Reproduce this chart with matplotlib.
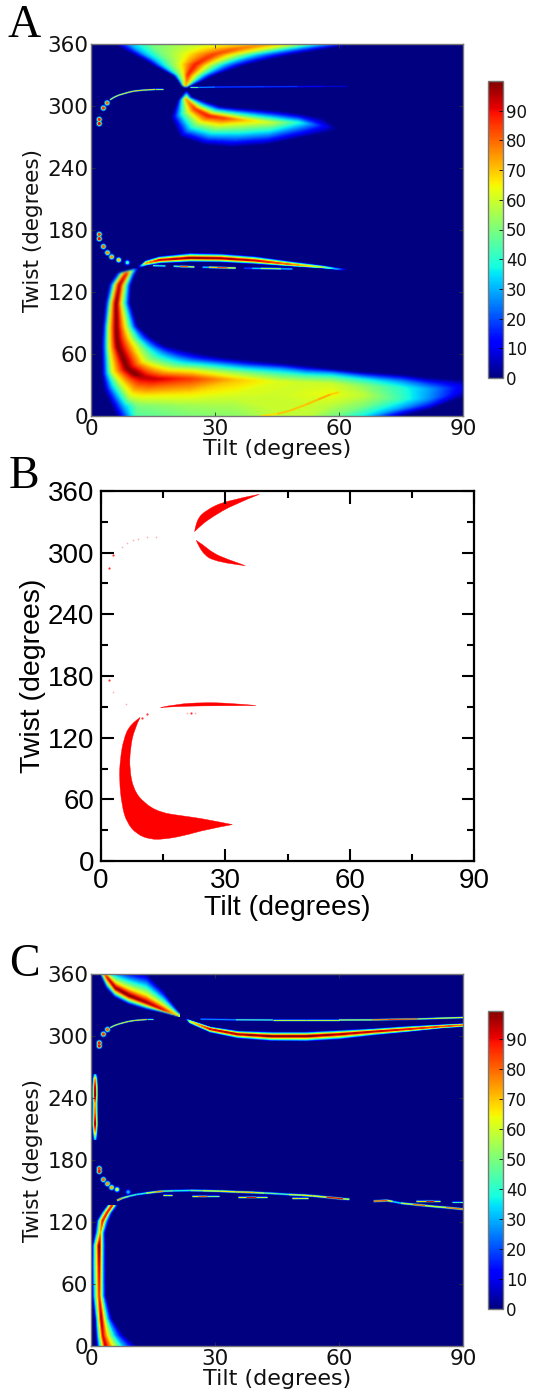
import numpy as np
import matplotlib
matplotlib.use("Agg")
import matplotlib.pyplot as plt
from matplotlib.collections import LineCollection
from matplotlib.cm import ScalarMappable
from matplotlib.colors import Normalize
from matplotlib.patches import PathPatch
from matplotlib.path import Path

W, H = 534, 1395
norm = Normalize(0, 100)
levels = np.linspace(0, 100, 101)

xticks = [0, 30, 60, 90]
yticks = [0, 60, 120, 180, 240, 300, 360]
cbar_ticks = [0, 10, 20, 30, 40, 50, 60, 70, 80, 90]

# panel A, big lower lobe: cross sections, outer edge -> inner edge
a_main_tilt = [
    [11.0, 11.1, 11.2, 11.3, 11.4, 11.5, 11.6],
    [6.3, 7.2, 7.7, 8.6, 9.2, 9.9, 10.7],
    [4.4, 5.3, 5.9, 6.9, 7.9, 8.8, 9.6],
    [3.5, 4.3, 4.9, 6.1, 7.3, 8.4, 9.4],
    [2.9, 3.7, 4.4, 6.1, 8.4, 9.9, 11.3],
    [2.7, 3.6, 4.4, 6.2, 9.5, 11.8, 14.5],
    [2.6, 3.6, 4.4, 6.5, 10.9, 14.1, 18.0],
    [2.7, 3.9, 5.1, 8.8, 13, 17, 20],
    [3.3, 5, 7, 11, 15, 19, 22.5],
    [6.3, 8, 9.5, 12.5, 17, 21, 25],
    [11, 11.5, 12.5, 15.5, 19, 23.5, 28],
    [24, 24, 24, 24, 24.5, 27.5, 32],
    [35, 35, 35, 35, 35.5, 37, 40],
    [45, 45, 45, 45, 45.5, 46, 47],
    [52, 52, 52, 52, 52, 52, 52],
    [58, 58, 58, 58, 58, 58, 58],
    [66, 66, 66, 66, 66, 66, 66],
    [75, 75, 75, 75, 75, 75, 75],
    [82, 82, 82, 82, 82, 82, 82],
    [90, 90, 90, 90, 90, 90, 90],
]
a_main_twist = [
    [143, 143, 143, 143, 143, 143, 143],
    [138, 138, 138, 138, 138, 138, 138],
    [127, 127, 127, 127, 127, 127, 127],
    [109, 109, 109, 109, 109, 109, 109],
    [86, 86, 86, 86, 86, 86, 86],
    [75, 75, 75, 75, 75, 75, 75],
    [67, 67, 67, 67, 67, 67, 67],
    [41, 41.7, 42.7, 46, 53, 60, 65.5],
    [25, 29, 33, 40, 50, 57, 63],
    [0, 10, 18, 38, 47, 54.5, 61],
    [0, 10, 20, 36, 45, 52.5, 58.5],
    [0, 11, 22, 36, 44, 51, 56],
    [0, 11, 22, 35, 42, 48, 52.5],
    [0, 8, 20, 33, 40, 46, 50],
    [0, 11, 21, 32, 38, 43, 48],
    [0, 11, 21, 31, 37, 42, 45],
    [0, 10, 20, 29, 35, 39, 42],
    [0, 8, 17, 27, 33, 37, 39.5],
    [7, 11, 17, 26, 31, 34, 36.5],
    [18, 20.5, 23.5, 28, 31, 33, 35],
]
a_main_val = [
    [0, 0, 0, 0, 0, 0, 0],
    [0, 30, 60, 88, 60, 30, 0],
    [0, 30, 60, 95, 60, 30, 0],
    [0, 30, 60, 100, 60, 30, 0],
    [0, 30, 60, 100, 60, 30, 0],
    [0, 30, 60, 100, 60, 30, 0],
    [0, 30, 60, 100, 60, 30, 0],
    [0, 30, 60, 100, 60, 30, 0],
    [0, 30, 60, 100, 60, 30, 0],
    [0, 30, 58, 95, 62, 30, 0],
    [45, 50, 65, 93, 62, 30, 0],
    [50, 55, 66, 85, 62, 30, 0],
    [52, 56, 62, 70, 52, 26, 0],
    [58, 60, 60, 62, 45, 25, 0],
    [58, 60, 62, 60, 45, 25, 0],
    [50, 58, 64, 60, 45, 25, 0],
    [35, 50, 58, 52, 38, 20, 0],
    [0, 28, 42, 40, 28, 14, 0],
    [0, 14, 26, 28, 18, 8, 0],
    [0, 3, 7, 9, 6, 3, 0],
]
# thin orange streak inside the lobe
a_streak_x = [41, 45, 48, 52, 55, 58, 60]
a_streak_y = [0, 2, 5, 11, 16, 21, 23]
a_streak_v = [64, 70, 70, 70, 72, 74, 64]

# panel A, fan above the apex: one row per twist value
a_fan_twist = [318, 320, 325, 330, 335, 340, 345, 350, 355, 360]
a_fan_tilt = [
    [22.8, 22.85, 22.9, 22.95, 23.0, 23.05, 23.1, 23.2],
    [22.0, 22.2, 22.4, 22.6, 22.9, 23.2, 23.6, 24.2],
    [21.1, 21.5, 22.1, 22.6, 23.2, 24.2, 25.5, 27.3],
    [19.9, 20.7, 21.5, 22.4, 23.4, 25.2, 27.3, 29.8],
    [17.4, 18.8, 20.6, 22, 24.3, 26.9, 29.8, 33.5],
    [15, 17, 19.5, 21.5, 25.2, 28.5, 32.2, 37.2],
    [12.9, 15.4, 18.7, 22, 27.3, 31.4, 35.9, 42.5],
    [10.4, 13.3, 17.4, 22.4, 29.8, 34.7, 40.5, 48.7],
    [8, 11.3, 16.2, 24.8, 34.7, 41.3, 47.9, 56],
    [5.9, 9.6, 15, 29, 43, 48.7, 56, 63.5],
]
a_fan_val = [
    [0, 0, 0, 0, 0, 0, 0, 0],
    [0, 30, 50, 62, 70, 60, 30, 0],
    [0, 30, 50, 62, 78, 60, 30, 0],
    [0, 30, 50, 62, 86, 60, 30, 0],
    [0, 30, 50, 62, 88, 60, 30, 0],
    [0, 30, 50, 62, 88, 60, 30, 0],
    [0, 30, 50, 62, 86, 60, 30, 0],
    [0, 30, 50, 62, 84, 60, 30, 0],
    [0, 30, 50, 62, 80, 60, 30, 0],
    [0, 30, 50, 62, 72, 60, 30, 0],
]

# panel A, crescent under the apex
a_cres_lo_x = [23.0, 21.1, 19.5, 21.5, 27.3, 33.9, 42.1, 50.3, 56.9, 59.4]
a_cres_lo_y = [314, 305, 288.8, 271, 262.9, 260.6, 262.9, 269.4, 274.2, 277.5]
a_cres_mid_x = [23.1, 23, 25.2, 28.5, 32.2, 37.2, 43.8, 50.3, 56.1, 59.5]
a_cres_mid_y = [314.5, 306.6, 296.9, 290.4, 288.2, 286.2, 284, 284, 280.7, 278]
a_cres_hi_x = [23.2, 24.4, 28.1, 31.4, 34.7, 39.6, 45.4, 50.3, 55.7, 59.6]
a_cres_hi_y = [315, 308.2, 303.4, 299.2, 297.9, 296.6, 294.6, 292, 288.8, 278.5]
a_cres_peak = [0, 72, 85, 88, 84, 70, 58, 38, 12, 0]

# panel A, thin arm near twist 150
a_arm_x = [11.5, 13.3, 16.6, 24, 31.4, 39.6, 47.9, 56, 60.2, 62]
a_arm_lo = [143, 145.6, 147.9, 149.2, 148.9, 147.2, 145, 143, 141, 141.5]
a_arm_mid = [144, 147.9, 151, 153, 152.6, 150.5, 146.9, 144, 142, 141.8]
a_arm_hi = [145, 150.5, 154.4, 157.6, 157, 154.4, 149.8, 145.6, 143, 142]
a_arm_peak = [0, 70, 92, 98, 98, 92, 80, 55, 20, 0]

# panel A, fragments along thin lines (0 breaks the line)
a_frag_x = [15, 16.5, 18, 19, 20, 21.5, 23.5, 25, 26, 27, 28.5, 30.6, 33, 35, 36, 37, 39, 41, 43.8, 46, 48.7]
a_frag_y = [145.6, 145.4, 145.2, 145.1, 145, 144.7, 144.5, 144.2, 144.1, 144, 143.9, 143.7, 143.4, 143.2, 143.1, 143, 142.9, 142.8, 142.7, 142.5, 142.3]
a_frag_v = [30, 55, 25, 0, 20, 70, 92, 30, 0, 15, 55, 85, 85, 45, 0, 12, 25, 45, 65, 45, 20]
a_line_x = [24, 26, 30, 36, 42, 50, 56, 62]
a_line_y = [318, 318, 318.3, 318.5, 318.6, 318.8, 319, 319]
a_line_v = [60, 35, 22, 20, 22, 15, 10, 5]
a_curve_x = [4.6, 5.6, 6.7, 8, 9.2, 10.5, 12.5, 14, 15.5, 17.4]
a_curve_y = [306, 308.5, 310.5, 312, 313.4, 314.5, 315.3, 315.7, 316, 316]
a_curve_v = [90, 35, 92, 40, 92, 45, 90, 50, 85, 30]

# beads at low tilt
a_bead_x = [2, 2, 3, 3.9, 2, 2, 3, 4, 5, 6.7, 8.8]
a_bead_y = [283, 287, 298, 303, 171.6, 175.8, 164, 158, 154, 151, 148.5]
a_bead_v = [90, 88, 85, 80, 90, 85, 80, 75, 75, 70, 40]

# panel B outlines, the tip indices are kept sharp
b_lobe_x = [9.44, 7.04, 5.44, 4.64, 4.4, 5.04, 6.24, 8.64, 11.84, 15.04, 19.84, 25.44, 31.68,
            25.44, 19.84, 14.24, 10.24, 7.84, 6.88, 7.04, 8]
b_lobe_y = [139.6, 133.1, 118.5, 99, 79.5, 53.6, 37.3, 26, 21.1, 21.1, 24.4, 30.8, 35.4,
            40.6, 43.8, 47.1, 56.8, 69.8, 89.3, 108.8, 128.2]
b_lobe_tip = 12
b_arm_x = [14.4, 18.2, 24.6, 31, 37.4, 31, 24.6, 18.2]
b_arm_y = [149.4, 152.6, 154.2, 153.6, 151.3, 151, 151, 150.3]
b_arm_tip = 4
b_up_x = [22.6, 23, 25.4, 30.2, 38.2, 31.8, 27, 24.2]
b_up_y = [320.6, 331.9, 341.6, 350.6, 356.8, 346.5, 335.2, 327.1]
b_up_tip = 4
b_low_x = [23, 24.2, 27.8, 34.8, 30.2, 27, 24.6]
b_low_y = [311.9, 299.7, 290.6, 287.4, 293.9, 299.7, 307.7]
b_low_tip = 3
b_dot_x = [10, 11, 1.9, 1.9, 3, 21.8]
b_dot_y = [139, 143, 285, 176, 297.4, 143.8]
b_faint_x = [5, 6.2, 7.8, 9, 11, 13.2, 6, 2.9, 20.8, 22.8]
b_faint_y = [305.5, 309, 312, 313.5, 314.8, 315.5, 152.3, 164, 144, 143.8]

# panel C, wedge upper left
c_wedge_x = [21.5, 17.4, 13.3, 9.2, 5.9, 3.9, 2.6]
c_wedge_lo = [318.6, 322.8, 326, 330.9, 337.3, 345.4, 356.8]
c_wedge_mid = [319.2, 325.4, 332.5, 339, 346.4, 356.8, 363]
c_wedge_hi = [321.2, 343.8, 360, 363, 366, 366, 370]
c_wedge_peak = [60, 90, 97, 100, 98, 90, 60]

# panel C, long crescent
c_cres_x = [23, 24, 28.9, 35.5, 43.8, 52, 60.2, 68.4, 76.6, 84.9, 90]
c_cres_lo = [316, 312.1, 303.4, 297.9, 295.3, 295, 296.9, 300.8, 304, 307.6, 308.9]
c_cres_mid = [316.5, 314, 306.6, 301.7, 299.8, 299.8, 301.7, 304.3, 306.6, 309.2, 310.5]
c_cres_hi = [317, 315.3, 308.9, 305, 304, 304, 305.6, 307.2, 309.5, 311.1, 312.1]
c_cres_peak = [0, 60, 92, 96, 100, 100, 96, 94, 90, 85, 80]

# panel C, vertical streak at tilt 1
c_streak_y = [263, 258, 250, 243, 235, 225, 215, 208, 200]
c_streak_lo = [0.5, 0.4, 0.3, 0.3, 0.3, 0.3, 0.3, 0.4, 0.5]
c_streak_mid = [1, 1, 1, 1, 1, 1, 1, 1, 1]
c_streak_hi = [1.5, 1.6, 1.7, 1.7, 1.7, 1.7, 1.7, 1.6, 1.5]
c_streak_peak = [25, 72, 95, 100, 72, 80, 98, 72, 30]

# panel C, column at low tilt
c_col_y = [0, 9.7, 26, 48.5, 77.7, 97, 110, 121, 129, 136]
c_col_lo = [1.4, 1.2, 1, 0.3, 0.2, 0.3, 1, 1.4, 2.6, 3.9]
c_col_mid = [3.5, 2.9, 2.5, 2, 2, 2, 2.3, 2.8, 3.9, 5.1]
c_col_hi = [10.9, 8, 5.1, 3.6, 3.5, 3.5, 3.5, 4.3, 5.1, 6.4]
c_col_peak = [92, 90, 95, 85, 92, 100, 70, 88, 88, 88]

# panel C, thin lines
c_line_x = [26.5, 35, 44, 52, 60, 68, 72, 79, 83, 90]
c_line_y = [316.3, 315.7, 315.5, 315.5, 315.5, 315.6, 316, 316.5, 317, 317.9]
c_line_v = [20, 35, 55, 62, 55, 65, 92, 80, 35, 92]
c_arm_x = [6.3, 7.5, 9.2, 11, 13.3, 15.5, 17.4, 20, 24, 27, 31.4, 35, 39.6, 42, 45, 47.9, 51, 53.6, 57, 61, 62.5, 66,
           68.4, 71.7, 73, 75, 78, 80.8, 83, 86, 88, 90]
c_arm_y = [140.8, 143, 145, 146.6, 147.9, 149, 149.8, 150.2, 150.5, 150.3, 149.8, 149.2, 148.5, 148, 147.4, 146.6, 146, 145.3, 144, 142.4, 142, 141,
           140.1, 140.8, 139.8, 138.2, 137, 135.9, 135, 134, 133.2, 132.4]
c_arm_v = [90, 60, 45, 40, 35, 85, 65, 30, 45, 55, 68, 62, 78, 40, 55, 30, 90, 40, 90, 92, 30, 0,
           75, 92, 40, 30, 90, 70, 55, 68, 88, 70]
c_frag_x = [17.4, 18.5, 19.5, 20, 24.4, 26, 28, 31, 32, 35.5, 37.5, 40, 42.5, 44, 48.7, 50, 52.4, 53, 78.7, 81, 83, 84.5, 85, 87.3, 89, 90]
c_frag_y = [146.3, 146.3, 146.3, 146, 145, 145, 145, 145, 145, 144, 144, 144, 144, 144, 143.4, 143.4, 143.4, 143, 140.1, 140.1, 140.1, 140.1, 140, 139, 139, 139]
c_frag_v = [35, 90, 30, 0, 40, 92, 70, 30, 0, 35, 95, 88, 30, 0, 40, 95, 30, 0, 40, 95, 90, 30, 0, 30, 50, 40]
c_curve_x = [4.6, 5.6, 6.7, 8, 9, 10.5, 12, 13.5, 15]
c_curve_y = [308, 310, 311.6, 313, 314, 315, 315.5, 316, 316]
c_curve_v = [90, 35, 92, 40, 90, 45, 88, 55, 35]
c_bead_x = [2, 2, 3, 4, 2, 2, 3, 4, 5, 6.3, 9]
c_bead_y = [290.4, 293.3, 301.8, 306.3, 169, 171.7, 161, 157, 153.4, 151.5, 149]
c_bead_v = [90, 88, 85, 80, 90, 85, 80, 75, 72, 60, 30]


def box(l, t, r, b):
    return [l / W, 1 - b / H, (r - l) / W, (b - t) / H]


def soften(im, dpi, sigma=1.0):
    # the source picture is a soft raster, blur what was drawn
    r = max(1, int(3 * sigma))
    k = np.exp(-0.5 * (np.arange(-r, r + 1) / sigma) ** 2)
    k /= k.sum()
    a = im[:, :, 3:4]
    pm = np.concatenate([im[:, :, :3] * a, a], axis=2)
    pm = np.pad(pm, [(r, r), (r, r), (0, 0)], mode="edge")
    pm = np.apply_along_axis(lambda m: np.convolve(m, k, mode="same"), 0, pm)
    pm = np.apply_along_axis(lambda m: np.convolve(m, k, mode="same"), 1, pm)
    pm = pm[r:-r, r:-r]
    al = np.clip(pm[:, :, 3:4], 1e-4, 1)
    return np.concatenate([np.clip(pm[:, :, :3] / al, 0, 1), pm[:, :, 3:4]], axis=2), 0, 0


def soft_contour(ax, X, Y, Z, sigma=1.0):
    cs = ax.contourf(X, Y, Z, levels=levels, cmap="jet", norm=norm)
    cs.set_agg_filter(lambda im, dpi: soften(im, dpi, sigma))
    return cs


def ribbon(ax, lo_x, lo_y, mid_x, mid_y, hi_x, hi_y, peak, hi_frac=(0.33, 0.66), sigma=1.0):
    # cross section between edges, value peaks on the ridge
    lo_x, lo_y = np.array(lo_x, float), np.array(lo_y, float)
    mid_x, mid_y = np.array(mid_x, float), np.array(mid_y, float)
    hi_x, hi_y = np.array(hi_x, float), np.array(hi_y, float)
    f_lo = np.array([0, 0.32, 0.66, 1])
    f_hi = np.array(hi_frac + (1,))
    X = [lo_x + (mid_x - lo_x) * f for f in f_lo] + [mid_x + (hi_x - mid_x) * f for f in f_hi]
    Y = [lo_y + (mid_y - lo_y) * f for f in f_lo] + [mid_y + (hi_y - mid_y) * f for f in f_hi]
    prof = [0, 0.33, 0.66, 1, 0.66, 0.33, 0]
    Z = [np.array(peak, float) * p for p in prof]
    soft_contour(ax, np.array(X).T, np.array(Y).T, np.array(Z).T, sigma)


def strand(ax, x, y, v, lw=1.6, layers=((2.2, 0.22), (1.5, 0.55), (1.0, 1.0))):
    pts = np.column_stack([x, y])
    segs = np.stack([pts[:-1], pts[1:]], axis=1)
    v = np.array(v, float)
    keep = (v[:-1] > 0) & (v[1:] > 0)
    mid = 0.5 * (v[:-1] + v[1:])
    for scale, frac in layers:
        lc = LineCollection(segs[keep], array=mid[keep] * frac, cmap="jet", norm=norm,
                            linewidths=lw * scale, capstyle="butt")
        lc.set_agg_filter(lambda im, dpi: soften(im, dpi, 0.4))
        ax.add_collection(lc)


def beads(ax, x, y, v, d=6.5):
    v = np.array(v, float)
    for scale, frac in [(1.0, 0.25), (0.72, 0.55), (0.48, 1.0)]:
        s = (d * scale * 0.72) ** 2
        ax.scatter(x, y, c=v * frac, s=s, cmap="jet", norm=norm, linewidths=0, zorder=3)


def outline(ax, x, y, tip):
    # closed curve through control points, sharp at the first point and at tip
    p = np.column_stack([x, y])
    verts = [p[0]]
    codes = [Path.MOVETO]
    for run in (list(range(1, tip)) + [tip], list(range(tip + 1, len(p))) + [0]):
        for a, b in zip(run[:-1], run[1:]):
            end = p[b] if b == run[-1] else 0.5 * (p[a] + p[b])
            verts += [p[a], end]
            codes += [Path.CURVE3, Path.CURVE3]
    ax.add_patch(PathPatch(Path(verts, codes), fc="#ff0000", ec="#ff0000", lw=0.3))


def heat_axes(rect):
    ax = fig.add_axes(box(*rect))
    ax.set_facecolor(plt.cm.jet(0.0))
    ax.set_xlim(0, 90)
    ax.set_ylim(0, 360)
    ax.set_xticks(xticks)
    ax.set_yticks(yticks)
    ax.tick_params(direction="in", top=True, right=True, length=3, width=0.6, color="#333333",
                   labelsize=15.5, pad=2, labelcolor="#111111")
    ax.set_xlabel("Tilt (degrees)", fontsize=16, labelpad=0, color="#111111")
    ax.set_ylabel("Twist (degrees)", fontsize=15.5, labelpad=3, color="#111111")
    for s in ax.spines.values():
        s.set_color("#777777")
        s.set_linewidth(1.0)
    return ax


def colorbar(rect):
    cax = fig.add_axes(box(*rect))
    cb = fig.colorbar(ScalarMappable(norm=norm, cmap="jet"), cax=cax, ticks=cbar_ticks)
    cax.set_ylim(0, 99.5)
    cb.ax.tick_params(direction="in", length=3, width=0.6, labelsize=12, pad=2, labelcolor="#111111")
    cb.outline.set_edgecolor("#777777")
    cb.outline.set_linewidth(1.0)


fig = plt.figure(figsize=(W / 100, H / 100), dpi=100)

# A
ax = heat_axes((91, 44, 463, 416))
soft_contour(ax, np.array(a_main_tilt), np.array(a_main_twist), np.array(a_main_val))
fan_y = np.repeat(np.array(a_fan_twist, float)[:, None], 8, axis=1)
soft_contour(ax, np.array(a_fan_tilt), fan_y, np.array(a_fan_val), 0.8)
ribbon(ax, a_cres_lo_x, a_cres_lo_y, a_cres_mid_x, a_cres_mid_y, a_cres_hi_x, a_cres_hi_y, a_cres_peak, sigma=0.8)
ribbon(ax, a_arm_x, a_arm_lo, a_arm_x, a_arm_mid, a_arm_x, a_arm_hi, a_arm_peak, sigma=0.4)
strand(ax, a_streak_x, a_streak_y, a_streak_v, lw=1.4, layers=((1.0, 1.0),))
strand(ax, a_frag_x, a_frag_y, a_frag_v, lw=0.8)
strand(ax, a_line_x, a_line_y, a_line_v, lw=0.6)
strand(ax, a_curve_x, a_curve_y, a_curve_v, lw=0.6)
beads(ax, a_bead_x, a_bead_y, a_bead_v)
colorbar((488, 81, 503, 378))

# B
ax = fig.add_axes(box(101, 491, 474, 861))
ax.set_xlim(0, 90)
ax.set_ylim(0, 360)
outline(ax, b_lobe_x, b_lobe_y, b_lobe_tip)
outline(ax, b_arm_x, b_arm_y, b_arm_tip)
outline(ax, b_up_x, b_up_y, b_up_tip)
outline(ax, b_low_x, b_low_y, b_low_tip)
ax.scatter(b_dot_x, b_dot_y, s=2.5, c="#ff3030", linewidths=0)
ax.scatter(b_faint_x, b_faint_y, s=1.5, c="#ffb0b0", linewidths=0)
ax.set_xticks(xticks)
ax.set_xticks([15, 45, 75], minor=True)
ax.set_yticks(yticks)
ax.set_yticks([30, 90, 150, 210, 270, 330], minor=True)
ax.tick_params(which="major", direction="in", top=True, right=True, length=9, width=1.5, labelsize=20, pad=5)
ax.tick_params(which="minor", direction="in", top=True, right=True, length=5, width=1.5)
for lab in ax.get_xticklabels() + ax.get_yticklabels():
    lab.set_fontfamily("Liberation Sans")
ax.set_xlabel("Tilt (degrees)", fontsize=20.5, family="Liberation Sans", labelpad=1)
ax.set_ylabel("Twist (degrees)", fontsize=20.5, family="Liberation Sans", labelpad=1)
for s in ax.spines.values():
    s.set_linewidth(1.6)

# C
ax = heat_axes((91, 974, 463, 1346))
ribbon(ax, c_wedge_x, c_wedge_lo, c_wedge_x, c_wedge_mid, c_wedge_x, c_wedge_hi, c_wedge_peak, hi_frac=(0.25, 0.6), sigma=0.7)
ribbon(ax, c_cres_x, c_cres_lo, c_cres_x, c_cres_mid, c_cres_x, c_cres_hi, c_cres_peak, sigma=0.4)
ribbon(ax, c_streak_lo, c_streak_y, c_streak_mid, c_streak_y, c_streak_hi, c_streak_y, c_streak_peak, sigma=0.4)
ribbon(ax, c_col_lo, c_col_y, c_col_mid, c_col_y, c_col_hi, c_col_y, c_col_peak, hi_frac=(0.25, 0.55), sigma=0.4)
strand(ax, c_line_x, c_line_y, c_line_v, lw=0.7)
strand(ax, c_arm_x, c_arm_y, c_arm_v, lw=0.9)
strand(ax, c_frag_x, c_frag_y, c_frag_v, lw=0.7)
strand(ax, c_curve_x, c_curve_y, c_curve_v, lw=0.6)
beads(ax, c_bead_x, c_bead_y, c_bead_v)
colorbar((488, 1011, 503, 1309))

# panel letters
for letter, px, py in [("A", 8, 37), ("B", 9, 488), ("C", 9, 976)]:
    fig.text(px / W, 1 - py / H, letter, fontsize=33, family="Liberation Serif", va="baseline", ha="left")

fig.savefig("out.png", dpi=100)
